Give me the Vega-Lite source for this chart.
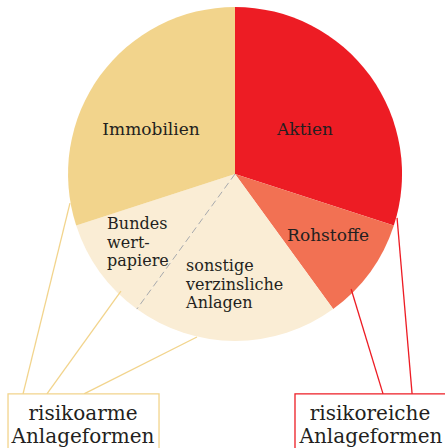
{
  "$schema": "https://vega.github.io/schema/vega-lite/v6.json",
  "width": 445,
  "height": 448,
  "padding": 0,
  "autosize": "none",
  "background": "white",
  "config": {"view": {"stroke": null}, "text": {"font": "DejaVu Serif", "color": "#231F20"}},
  "resolve": {"scale": {"color": "independent"}},
  "layer": [
    {
      "data": {"values": [
        {"name": "Aktien", "value": 30, "idx": 1, "cx": 0, "cy": 0},
        {"name": "Rohstoffe", "value": 10, "idx": 2, "cx": 0, "cy": 0},
        {"name": "sonstige verzinsliche Anlagen", "value": 20, "idx": 3, "cx": 0, "cy": 0},
        {"name": "Bundeswertpapiere", "value": 10, "idx": 4, "cx": 0, "cy": 0},
        {"name": "Immobilien", "value": 30, "idx": 5, "cx": 0, "cy": 0}
      ]},
      "mark": {"type": "arc", "radius": 167, "strokeWidth": 0},
      "encoding": {
        "x": {"field": "cx", "type": "quantitative", "scale": {"domain": [-1.407, 1.257], "nice": false, "zero": false}, "axis": null},
        "y": {"field": "cy", "type": "quantitative", "scale": {"domain": [-1.641, 1.042], "nice": false, "zero": false}, "axis": null},
        "theta": {"field": "value", "type": "quantitative", "stack": true},
        "order": {"field": "idx", "type": "quantitative"},
        "color": {"field": "name", "type": "nominal", "legend": null,
          "scale": {"domain": ["Aktien", "Rohstoffe", "sonstige verzinsliche Anlagen", "Bundeswertpapiere", "Immobilien"],
                    "range": ["#ED1C24", "#F27153", "#FAEDD5", "#FAEDD5", "#F2D48C"]}}
      }
    },
    {
      "data": {"values": [{"x": 0, "y": 0, "x2": -0.588, "y2": -0.809}]},
      "mark": {"type": "rule", "color": "#A7A9AC", "strokeWidth": 1, "strokeDash": [7, 4]},
      "encoding": {
        "x": {"field": "x", "type": "quantitative"},
        "y": {"field": "y", "type": "quantitative"},
        "x2": {"field": "x2"},
        "y2": {"field": "y2"}
      }
    },
    {
      "data": {"values": [
        {"group": "risikoarm", "x": -0.988, "y": -0.174, "x2": -1.269, "y2": -1.317},
        {"group": "risikoarm", "x": -0.683, "y": -0.701, "x2": -1.126, "y2": -1.317},
        {"group": "risikoarm", "x": -0.228, "y": -0.976, "x2": -0.904, "y2": -1.317},
        {"group": "risikoreich", "x": 0.970, "y": -0.263, "x2": 1.060, "y2": -1.317},
        {"group": "risikoreich", "x": 0.695, "y": -0.689, "x2": 0.886, "y2": -1.317}
      ]},
      "mark": {"type": "rule", "strokeWidth": 1.3},
      "encoding": {
        "x": {"field": "x", "type": "quantitative"},
        "y": {"field": "y", "type": "quantitative"},
        "x2": {"field": "x2"},
        "y2": {"field": "y2"},
        "color": {"field": "group", "type": "nominal", "legend": null,
          "scale": {"domain": ["risikoarm", "risikoreich"], "range": ["#F2D48C", "#ED1C24"]}}
      }
    },
    {
      "data": {"values": [
        {"group": "risikoarm", "x": -1.359, "x2": -0.455, "y": -1.317, "y2": -1.9},
        {"group": "risikoreich", "x": 0.359, "x2": 1.5, "y": -1.317, "y2": -1.9}
      ]},
      "mark": {"type": "rect", "fill": "white", "strokeWidth": 1.3, "clip": true},
      "encoding": {
        "x": {"field": "x", "type": "quantitative"},
        "y": {"field": "y", "type": "quantitative"},
        "x2": {"field": "x2"},
        "y2": {"field": "y2"},
        "stroke": {"field": "group", "type": "nominal", "legend": null,
          "scale": {"domain": ["risikoarm", "risikoreich"], "range": ["#F2D48C", "#ED1C24"]}}
      }
    },
    {
      "data": {"values": [
        {"label": "Immobilien", "x": -0.503, "y": 0.234},
        {"label": "Aktien", "x": 0.419, "y": 0.234},
        {"label": "Rohstoffe", "x": 0.557, "y": -0.401}
      ]},
      "mark": {"type": "text", "fontSize": 17, "align": "center", "baseline": "alphabetic"},
      "encoding": {
        "x": {"field": "x", "type": "quantitative"},
        "y": {"field": "y", "type": "quantitative"},
        "text": {"field": "label"}
      }
    },
    {
      "data": {"values": [
        {"label": "Bundes", "x": -0.766, "y": -0.329},
        {"label": "wert-", "x": -0.766, "y": -0.443},
        {"label": "papiere", "x": -0.766, "y": -0.551},
        {"label": "sonstige", "x": -0.293, "y": -0.581},
        {"label": "verzinsliche", "x": -0.293, "y": -0.695},
        {"label": "Anlagen", "x": -0.293, "y": -0.802}
      ]},
      "mark": {"type": "text", "fontSize": 16, "align": "left", "baseline": "alphabetic"},
      "encoding": {
        "x": {"field": "x", "type": "quantitative"},
        "y": {"field": "y", "type": "quantitative"},
        "text": {"field": "label"}
      }
    },
    {
      "data": {"values": [
        {"label": "risikoarme", "x": -0.910, "y": -1.473},
        {"label": "Anlageformen", "x": -0.910, "y": -1.611},
        {"label": "risikoreiche", "x": 0.808, "y": -1.473},
        {"label": "Anlageformen", "x": 0.814, "y": -1.611}
      ]},
      "mark": {"type": "text", "fontSize": 20, "align": "center", "baseline": "alphabetic"},
      "encoding": {
        "x": {"field": "x", "type": "quantitative"},
        "y": {"field": "y", "type": "quantitative"},
        "text": {"field": "label"}
      }
    }
  ]
}
